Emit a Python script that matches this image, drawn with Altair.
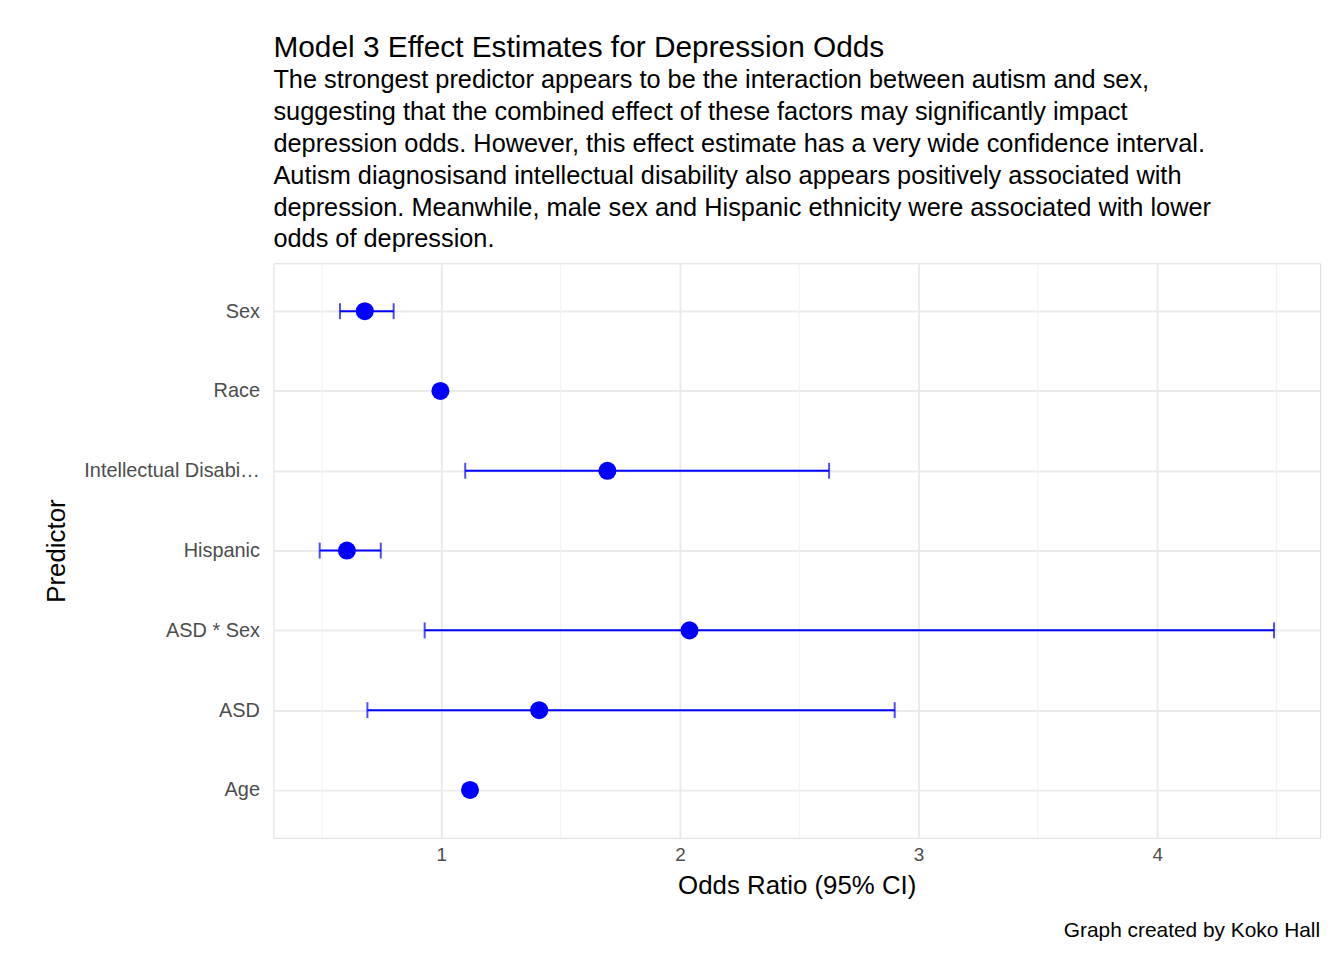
import altair as alt
import pandas as pd

predictors = ["Sex", "Race", "Intellectual Disability", "Hispanic", "ASD * Sex", "ASD", "Age"]
odds = [0.679, 0.996, 1.696, 0.604, 2.04, 1.41, 1.12]
low = [0.575, 0.99, 1.10, 0.49, 0.93, 0.69, 1.11]
high = [0.80, 1.005, 2.625, 0.746, 4.49, 2.90, 1.13]
minor_ticks = [0.5, 1.5, 2.5, 3.5, 4.5]
major_ticks = [1, 2, 3, 4]

df = pd.DataFrame({"Predictor": predictors, "OR": odds, "lo": low, "hi": high})
df_minor = pd.DataFrame({"v": minor_ticks})

W, H = 1053, 578
xscale = alt.Scale(domain=[0.296, 4.683], nice=False, zero=False)
yscale = alt.Scale(type="point", padding=0.6)
ysort = predictors

minor = alt.Chart(df_minor).mark_rule(color="#f2f2f2", strokeWidth=1).encode(
    x=alt.X("v:Q", scale=xscale)
)

base = alt.Chart(df)
xax = alt.X("lo:Q", scale=xscale, title="Odds Ratio (95% CI)",
            axis=alt.Axis(values=major_ticks, grid=True, gridColor="#ebebeb", gridWidth=2,
                          domain=False, ticks=False, labelFontSize=19, labelColor="#4d4d4d",
                          titleFontSize=26, titleFontWeight="normal", titleColor="black",
                          labelPadding=8, titlePadding=8, format="d"))
yax = alt.Y("Predictor:N", sort=ysort, scale=yscale, title="Predictor",
            axis=alt.Axis(grid=True, gridColor="#ebebeb", gridWidth=2, domain=False, ticks=False,
                          labelFontSize=20, labelColor="#4d4d4d", labelPadding=14,
                          titleFontSize=26, titleFontWeight="normal", titleColor="black",
                          titlePadding=14))

rules = base.mark_rule(color="blue", strokeWidth=2).encode(x=xax, x2="hi:Q", y=yax)
cap_lo = base.mark_tick(color="blue", size=16, thickness=2).encode(
    x=alt.X("lo:Q", scale=xscale), y=alt.Y("Predictor:N", sort=ysort, scale=yscale))
cap_hi = base.mark_tick(color="blue", size=16, thickness=2).encode(
    x=alt.X("hi:Q", scale=xscale), y=alt.Y("Predictor:N", sort=ysort, scale=yscale))
pts = base.mark_circle(color="blue", size=330, opacity=1).encode(
    x=alt.X("OR:Q", scale=xscale), y=alt.Y("Predictor:N", sort=ysort, scale=yscale))

caption = alt.Chart(pd.DataFrame({"t": ["Graph created by Koko Hall"]})).mark_text(
    align="right", baseline="alphabetic", fontSize=21, color="black"
).encode(text="t:N", x=alt.value(W), y=alt.value(678))

subtitle = [
    "The strongest predictor appears to be the interaction between autism and sex,",
    "suggesting that the combined effect of these factors may significantly impact",
    "depression odds. However, this effect estimate has a very wide confidence interval.",
    "Autism diagnosisand intellectual disability also appears positively associated with",
    "depression. Meanwhile, male sex and Hispanic ethnicity were associated with lower",
    "odds of depression.",
]

chart = alt.layer(minor, rules, cap_lo, cap_hi, pts, caption).properties(
    width=W, height=H,
    autosize=alt.AutoSizeParams(type="none"),
    padding={"left": 267, "top": 254, "right": 16, "bottom": 110},
    title=alt.TitleParams(
        "Model 3 Effect Estimates for Depression Odds", subtitle=subtitle,
        anchor="start", frame="group", fontSize=30, fontWeight="normal", color="black",
        subtitleFontSize=25.5, subtitleColor="black", subtitleLineHeight=32,
        subtitlePadding=6, offset=10, font="Liberation Sans", subtitleFont="Liberation Sans"),
).configure_view(strokeWidth=0, stroke="transparent").configure(font="Liberation Sans")

chart.save("out.html", embed_options={"renderer": "svg", "actions": False})
